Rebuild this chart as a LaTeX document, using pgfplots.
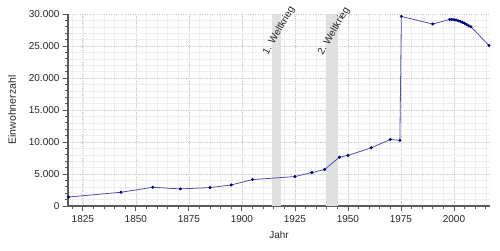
\documentclass[border=0pt]{standalone}
\usepackage{fontspec}
\setmainfont{Liberation Sans}
\usepackage{pgfplots}
\pgfplotsset{compat=1.18}
\definecolor{axisgray}{RGB}{90,90,90}
\definecolor{majgrid}{RGB}{200,200,200}
\definecolor{mingrid}{RGB}{238,238,238}
\definecolor{warband}{RGB}{224,224,224}
\definecolor{lineblue}{RGB}{80,80,170}
\definecolor{markblue}{RGB}{0,0,128}
\begin{document}
\begin{tikzpicture}[x=1pt,y=1pt]
\path (-68pt,-44pt) rectangle (432pt,206pt);
\begin{axis}[
  at={(0pt,0pt)}, anchor=south west,
  scale only axis, width=422pt, height=192pt,
  xmin=1818, xmax=2017, ymin=0, ymax=30000,
  axis lines*=left,
  axis line style={axisgray, line width=1.1pt},
  every tick/.style={axisgray, line width=0.8pt},
  tick align=outside,
  major tick length=5pt, minor tick length=3pt,
  xtick={1825,1850,...,2000},
  minor xtick={1820,1825,...,2015},
  ytick={0,5000,...,30000},
  minor ytick={1000,2000,...,29000},
  grid=both,
  major grid style={majgrid, dotted, line width=0.7pt},
  minor grid style={mingrid, line width=0.5pt},
  tick label style={font=\fontsize{10}{12}\selectfont, text=black!85},
  label style={font=\fontsize{10}{12}\selectfont, text=black!85},
  /pgf/number format/assume math mode=true,
  xticklabel style={/pgf/number format/1000 sep={}, yshift=-1pt},
  yticklabel style={/pgf/number format/1000 sep={.}},
  scaled y ticks=false,
  xlabel={Jahr}, ylabel={Einwohnerzahl},
  xlabel style={yshift=-2pt},
  ylabel style={font=\fontsize{10.5}{12}\selectfont, yshift=6pt},
  clip=false,
]
\fill[warband] (axis cs:1914,0) rectangle (axis cs:1918.6,30000);
\fill[warband] (axis cs:1939.5,0) rectangle (axis cs:1945.2,30000);
\node[rotate=60, font=\fontsize{10}{12}\selectfont, text=black!85] at (axis cs:1917.5,27400) {1. Weltkrieg};
\node[rotate=60, font=\fontsize{10}{12}\selectfont, text=black!85] at (axis cs:1943.4,27300) {2. Weltkrieg};
\addplot[lineblue, line width=0.8pt, mark=*, mark size=1.1pt, mark options={markblue, fill=markblue}] coordinates {
(1818.2,1400) (1843,2150) (1858,2930) (1871,2670) (1885,2880) (1895,3290)
(1905,4130) (1925,4600) (1933,5230) (1939,5700) (1946,7630) (1950,7900)
(1961,9090) (1970,10400) (1974.5,10250) (1975.2,29620) (1990,28430)
(1998,29150) (1999,29150) (2000,29100) (2001,29050) (2002,28950) (2003,28850)
(2004,28700) (2005,28550) (2006,28350) (2007,28150) (2008,28000) (2016.5,25080)
};
\end{axis}
\end{tikzpicture}
\end{document}
